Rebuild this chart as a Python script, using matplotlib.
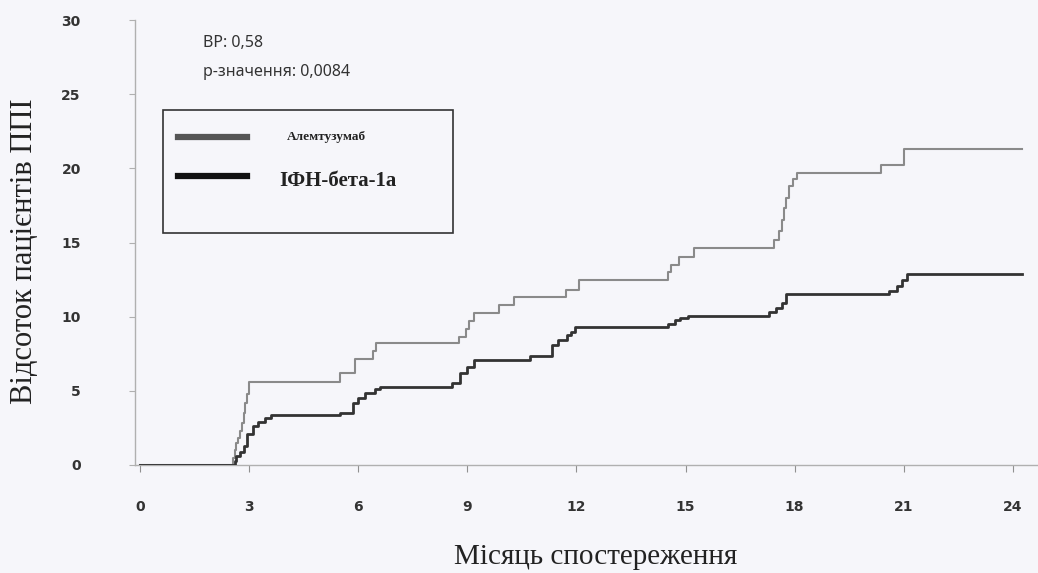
import matplotlib
matplotlib.use("Agg")
import matplotlib.pyplot as plt
from matplotlib.lines import Line2D
from matplotlib.patches import Rectangle

# ---- data ----
alem_t = [0, 2.55, 2.6, 2.65, 2.7, 2.75, 2.8, 2.85, 2.9, 2.95, 3.0, 5.5, 5.9, 6.42, 6.5,
          8.76, 8.95, 9.05, 9.17, 9.86, 10.27, 11.72, 12.06, 14.53, 14.6, 14.81, 15.22,
          17.42, 17.56, 17.65, 17.7, 17.75, 17.85, 17.95, 18.07, 20.36, 21.0, 24.26]
alem_v = [0, 0.5, 1.0, 1.5, 1.8, 2.3, 2.8, 3.5, 4.2, 4.8, 5.6, 6.2, 7.15, 7.7, 8.25,
          8.6, 9.2, 9.7, 10.25, 10.8, 11.35, 11.8, 12.45, 13.0, 13.5, 14.05, 14.65,
          15.2, 15.75, 16.5, 17.3, 18.0, 18.8, 19.3, 19.7, 20.2, 21.3, 21.3]

ifn_t = [0, 2.6, 2.65, 2.75, 2.85, 2.95, 3.1, 3.25, 3.45, 3.6, 5.5, 5.87, 6.0, 6.2, 6.45,
         6.6, 8.57, 8.8, 9.0, 9.17, 10.73, 11.33, 11.5, 11.75, 11.85, 11.97, 14.53, 14.7,
         14.85, 15.08, 17.29, 17.5, 17.65, 17.77, 20.59, 20.8, 20.95, 21.09, 24.26]
ifn_v = [0, 0.3, 0.6, 0.9, 1.3, 2.1, 2.6, 2.9, 3.15, 3.35, 3.5, 4.15, 4.5, 4.85, 5.15,
         5.25, 5.5, 6.2, 6.6, 7.1, 7.35, 8.1, 8.4, 8.75, 9.0, 9.3, 9.5, 9.75,
         9.9, 10.05, 10.3, 10.6, 10.9, 11.5, 11.7, 12.1, 12.5, 12.9, 12.9]

x_ticks = [0, 3, 6, 9, 12, 15, 18, 21, 24]
y_ticks = [0, 5, 10, 15, 20, 25, 30]
series_names = ["Алемтузумаб", "ІФН-бета-1а"]
stats_lines = ["ВР: 0,58", "р-значення: 0,0084"]
x_label = "Місяць спостереження"
y_label = "Відсоток пацієнтів ППІ"

W, H = 1038, 573
bg = "#f6f6fa"
fig = plt.figure(figsize=(W / 100, H / 100), dpi=100, facecolor=bg)
ax = fig.add_axes([135 / W, 1 - 465 / H, (W - 135) / W, (465 - 20) / H])
ax.set_facecolor(bg)

ax.step(alem_t, alem_v, where="post", color="#8a8a8a", lw=1.5, zorder=3)
ax.step(ifn_t, ifn_v, where="post", color="#333333", lw=2.0, zorder=4)

ax.set_xlim(-0.137, 24.69)
ax.set_ylim(0, 30)
ax.set_xticks(x_ticks)
ax.set_yticks(y_ticks)
for s in ["top", "right"]:
    ax.spines[s].set_visible(False)
for s in ["left", "bottom"]:
    ax.spines[s].set_color("#b0b0b0")
    ax.spines[s].set_linewidth(1.0)
ax.tick_params(axis="x", direction="out", length=5, color="#909090", pad=20,
               labelsize=10, labelcolor="#333333")
ax.tick_params(axis="y", direction="out", length=4, color="#b0b0b0", pad=35,
               labelsize=10, labelcolor="#333333")
for lab in ax.get_xticklabels() + ax.get_yticklabels():
    lab.set_fontweight("bold")
    lab.set_family("DejaVu Sans")

fig.text(596 / W, 1 - 557 / H, x_label, ha="center", va="center",
         family="Liberation Serif", fontsize=21, color="#222222")
fig.text(25 / W, 1 - 251 / H, y_label, ha="center", va="center", rotation=90,
         family="Liberation Serif", fontsize=22, color="#222222")

# stats annotation
fig.text(203 / W, 1 - 43 / H, stats_lines[0], ha="left", va="center",
         fontsize=11.5, color="#333333", family="Noto Sans")
fig.text(203 / W, 1 - 72 / H, stats_lines[1], ha="left", va="center",
         fontsize=11.5, color="#333333", family="Noto Sans")

# legend box
fig.patches.append(Rectangle((163 / W, 1 - 233 / H), (453 - 163) / W, (233 - 110) / H,
                             transform=fig.transFigure, facecolor=bg,
                             edgecolor="#333333", lw=1.2, zorder=5))
fig.lines.append(Line2D([178 / W, 247 / W], [1 - 137 / H, 1 - 137 / H],
                        transform=fig.transFigure, color="#555555", lw=4.5, zorder=6))
fig.lines.append(Line2D([178 / W, 247 / W], [1 - 176 / H, 1 - 176 / H],
                        transform=fig.transFigure, color="#111111", lw=4.5, zorder=6))
fig.text(287 / W, 1 - 137 / H, series_names[0], ha="left", va="center",
         family="Liberation Serif", fontsize=9.5, fontweight="bold", color="#222222", zorder=7)
fig.text(279 / W, 1 - 181 / H, series_names[1], ha="left", va="center",
         family="Liberation Serif", fontsize=15, fontweight="bold", color="#222222", zorder=7)

fig.savefig("out.png", dpi=100, facecolor=bg)
